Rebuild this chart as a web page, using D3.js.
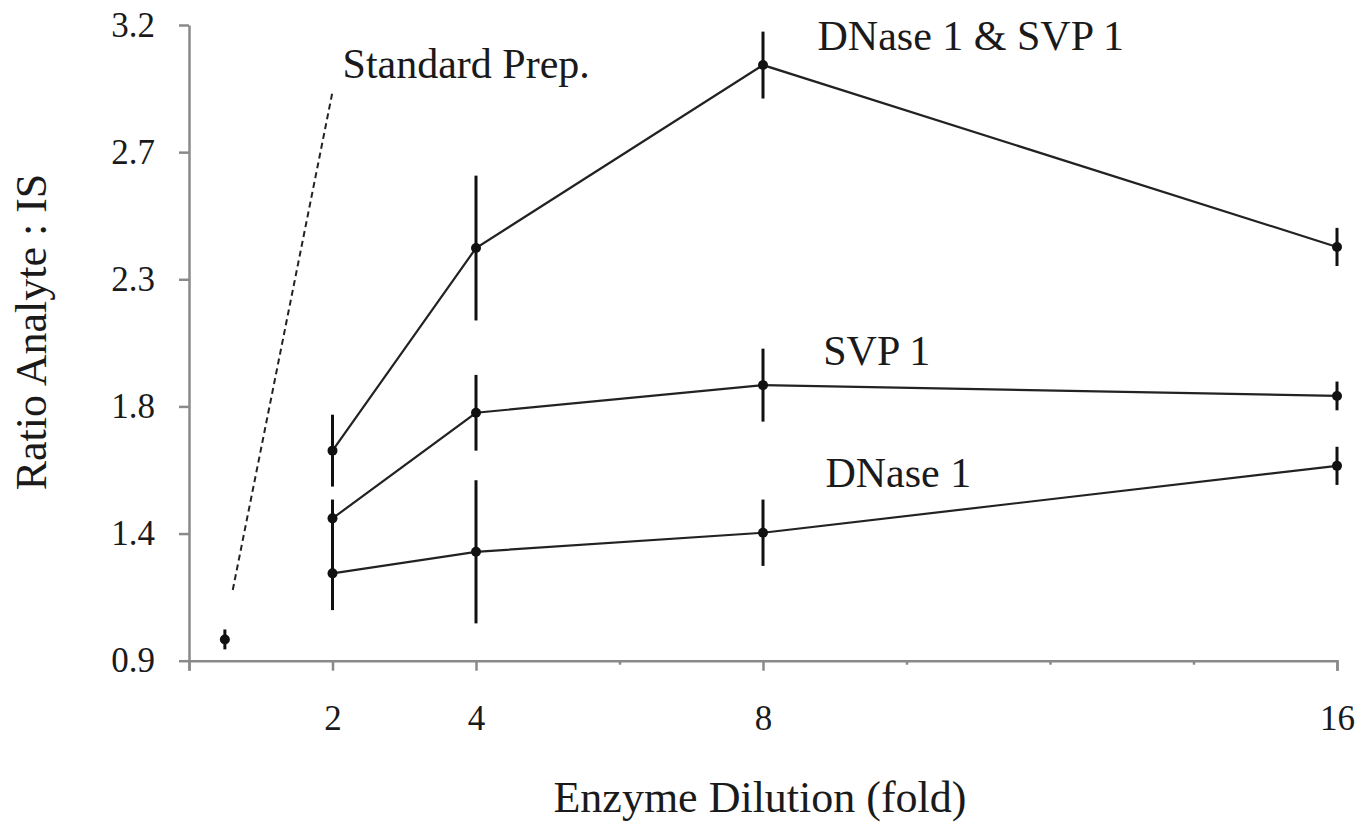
<!DOCTYPE html>
<html>
<head>
<meta charset="utf-8">
<script src="https://cdn.jsdelivr.net/npm/d3@7"></script>
<style>
  html, body { margin: 0; padding: 0; background: #fff; }
  #vis { width: 1356px; height: 823px; }
  text { font-family: "Liberation Serif", "Times New Roman", serif; fill: #1a1a1a; }
</style>
</head>
<body>
<div id="vis"></div>
<script>
// Dados
const diluicoes = [2, 4, 8, 16];

const ambosMedia = [1.660, 2.393, 3.055, 2.397];
const ambosErro  = [0.130, 0.262, 0.121, 0.069];

const svpMedia = [1.415, 1.797, 1.897, 1.858];
const svpErro  = [0.068, 0.137, 0.132, 0.052];

const dnaseMedia = [1.216, 1.294, 1.363, 1.605];
const dnaseErro  = [0.133, 0.259, 0.120, 0.069];

const padraoX = 0.5;
const padraoMedia = 0.977;
const padraoErro = 0.036;

// linha tracejada que liga o rótulo "Standard Prep." ao ponto
const guiaX = [0.61, 2.0];
const guiaY = [1.156, 2.958];

const yTicks = [0.9, 1.36, 1.82, 2.28, 2.74, 3.2];
const yTickLabels = ["0.9", "1.4", "1.8", "2.3", "2.7", "3.2"];
const xTicks = [0, 2, 4, 6, 8, 10, 12, 14, 16];
const xTicksRotulados = [2, 4, 8, 16];

const series = [
  { nome: "DNase 1 & SVP 1", media: ambosMedia, erro: ambosErro, rotulo: [8.76, 3.11] },
  { nome: "SVP 1", media: svpMedia, erro: svpErro, rotulo: [8.84, 1.97] },
  { nome: "DNase 1", media: dnaseMedia, erro: dnaseErro, rotulo: [8.87, 1.53] }
];

const container = d3.select("#vis");
const width = 1356, height = 823;

const svg = container.append("svg")
  .attr("width", width)
  .attr("height", height);

//Escalas
const xScale = d3.scaleLinear()
  .domain([0, 16])
  .range([189, 1337]);

const yScale = d3.scaleLinear()
  .domain([0.9, 3.2])
  .range([660.7, 25]);

const corEixo = "#8a8a8a";

//Eixo Y
const eixoY = svg.append("g")
  .attr("transform", `translate(${xScale(0)}, 0)`)
  .call(
    d3.axisLeft(yScale)
      .tickValues(yTicks)
      .tickFormat((d, i) => yTickLabels[i])
      .tickSize(10)
      .tickSizeOuter(0)
      .tickPadding(24)
  );
eixoY.select(".domain").attr("stroke", corEixo).attr("stroke-width", 2.5);
eixoY.selectAll(".tick line").attr("stroke", corEixo).attr("stroke-width", 2.5);
eixoY.selectAll(".tick text")
  .style("font-size", "35px")
  .style("font-family", "Liberation Serif, serif")
  .attr("fill", "#1a1a1a");

//Eixo X
const eixoX = svg.append("g")
  .attr("transform", `translate(0, ${yScale(0.9)})`)
  .call(
    d3.axisBottom(xScale)
      .tickValues(xTicks)
      .tickFormat(d => xTicksRotulados.includes(d) ? d : "")
      .tickSizeOuter(0)
      .tickSize(10)
      .tickPadding(34)
  );
eixoX.select(".domain").attr("stroke", corEixo).attr("stroke-width", 2.5);
eixoX.selectAll(".tick line")
  .attr("stroke", corEixo)
  .attr("stroke-width", 2.5)
  .attr("y2", d => (xTicksRotulados.includes(d) || d === 0) ? 10 : 4);
eixoX.selectAll(".tick text")
  .style("font-size", "35px")
  .style("font-family", "Liberation Serif, serif")
  .attr("fill", "#1a1a1a");

//Títulos dos eixos
svg.append("text")
  .attr("x", 760)
  .attr("y", 812)
  .attr("text-anchor", "middle")
  .style("font-size", "44px")
  .text("Enzyme Dilution (fold)");

svg.append("text")
  .attr("x", -332)
  .attr("y", 46)
  .attr("transform", "rotate(-90)")
  .attr("text-anchor", "middle")
  .style("font-size", "44px")
  .text("Ratio Analyte : IS");

//Linhas
const line = d3.line()
  .x(d => xScale(d.x))
  .y(d => yScale(d.y));

series.forEach(s => {
  const pontos = diluicoes.map((x, i) => ({ x: x, y: s.media[i], e: s.erro[i] }));

  svg.append("path")
    .datum(pontos)
    .attr("fill", "none")
    .attr("stroke", "#222")
    .attr("stroke-width", 2.2)
    .attr("d", line);

  svg.append("g")
    .selectAll("line")
    .data(pontos)
    .join("line")
    .attr("x1", d => xScale(d.x))
    .attr("x2", d => xScale(d.x))
    .attr("y1", d => yScale(d.y + d.e))
    .attr("y2", d => yScale(d.y - d.e))
    .attr("stroke", "#111")
    .attr("stroke-width", 3);

  svg.append("g")
    .selectAll("circle")
    .data(pontos)
    .join("circle")
    .attr("cx", d => xScale(d.x))
    .attr("cy", d => yScale(d.y))
    .attr("r", 5)
    .attr("fill", "#111");

  svg.append("text")
    .attr("x", xScale(s.rotulo[0]))
    .attr("y", yScale(s.rotulo[1]))
    .style("font-size", "42px")
    .text(s.nome);
});

//Preparação padrão
svg.append("line")
  .attr("x1", xScale(padraoX))
  .attr("x2", xScale(padraoX))
  .attr("y1", yScale(padraoMedia + padraoErro))
  .attr("y2", yScale(padraoMedia - padraoErro))
  .attr("stroke", "#111")
  .attr("stroke-width", 3);

svg.append("circle")
  .attr("cx", xScale(padraoX))
  .attr("cy", yScale(padraoMedia))
  .attr("r", 5)
  .attr("fill", "#111");

svg.append("line")
  .attr("x1", xScale(guiaX[0]))
  .attr("y1", yScale(guiaY[0]))
  .attr("x2", xScale(guiaX[1]))
  .attr("y2", yScale(guiaY[1]))
  .attr("stroke", "#222")
  .attr("stroke-width", 2)
  .attr("stroke-dasharray", "6,4");

svg.append("text")
  .attr("x", xScale(2.14))
  .attr("y", yScale(3.01))
  .style("font-size", "42px")
  .text("Standard Prep.");
</script>
</body>
</html>
